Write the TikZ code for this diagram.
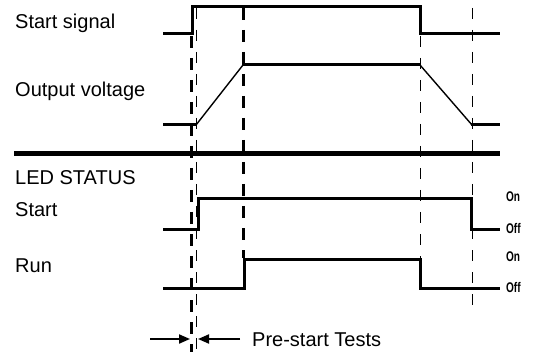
\documentclass[tikz,border=0pt]{standalone}
\usepackage{fontspec}
\setmainfont{Liberation Sans}
\usetikzlibrary{arrows.meta}
\begin{document}
\begin{tikzpicture}[x=1pt,y=-1pt,
  sig/.style={line width=3pt, line join=miter},
  ramp/.style={line width=1.4pt},
  sep/.style={line width=5pt},
  thickdash/.style={line width=3pt, dash pattern=on 12pt off 10pt},
  thindash/.style={line width=1pt, dash pattern=on 11pt off 11pt},
  lbl/.style={font=\fontsize{20}{20}\selectfont, anchor=base west, inner sep=0pt},
  onoff/.style={font=\bfseries\fontsize{14}{14}\selectfont, xscale=0.72, anchor=west, inner sep=0pt},
  dimarrow/.style={line width=2pt, -{Triangle[length=11pt,width=9pt]}}]
\useasboundingbox (0,0) rectangle (534,352);

% dashed guide lines
\draw[thindash] (196,8) -- (196,352);
\draw[thickdash] (191,36) -- (191,352);
\draw[thickdash] (243,8) -- (243,258);
\draw[thindash] (420,36) -- (420,259);
\draw[thindash] (472,8) -- (472,308);

% start signal
\draw[sig] (163,34) -- (192,34) -- (192,7) -- (420,7) -- (420,34) -- (500,34);
% output voltage
\draw[sig] (163,125) -- (197,125);
\draw[ramp] (196,125) -- (243,65);
\draw[sig] (242,65) -- (421,65);
\draw[ramp] (420,65) -- (472,125);
\draw[sig] (471,125) -- (500,125);

% separator
\draw[sep] (14,154) -- (500,154);

% LED start
\draw[sig] (163,229) -- (198,229) -- (198,199) -- (471,199) -- (471,229) -- (500,229);
% LED run
\draw[sig] (163,288) -- (244,288) -- (244,259) -- (420,259) -- (420,288) -- (500,288);

% labels
\node[lbl] (ls) at (15,29) {Start signal};
\node[lbl] (lo) at (15,97) {Output voltage};
\node[lbl] (led) at (15,185) {LED STATUS};
\node[lbl] (lst) at (15,217) {Start};
\node[lbl] (lrun) at (15,272) {Run};

\node[onoff] (on1) at (506,197) {On};
\node[onoff] (off1) at (506,228) {Off};
\node[onoff] (on2) at (506,257) {On};
\node[onoff] (off2) at (506,287) {Off};

% pre-start tests
\coordinate (la) at (150,339);
\coordinate (lb) at (190,339);
\coordinate (ra) at (240,339);
\coordinate (rb) at (198,339);
\draw[dimarrow] (la) -- (lb);
\draw[dimarrow] (ra) -- (rb);
\node[lbl] (pst) at (252,346) {Pre-start Tests};
\end{tikzpicture}
\end{document}
